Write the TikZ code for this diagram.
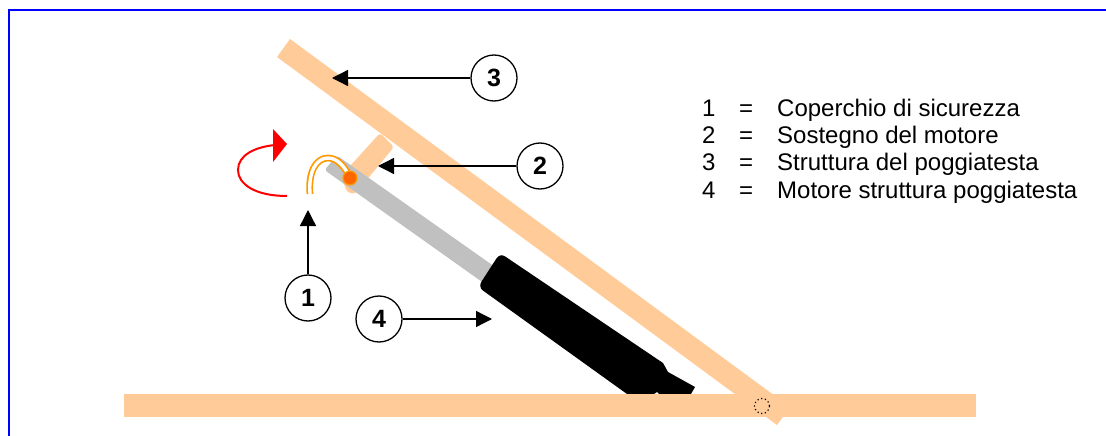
\documentclass[tikz,border=0pt]{standalone}
\usepackage{fontspec}
\setmainfont{Liberation Sans}
\usetikzlibrary{arrows.meta}
\definecolor{peach}{RGB}{255,204,153}
\definecolor{rodgray}{RGB}{192,192,192}
\definecolor{capor}{RGB}{255,153,0}
\definecolor{pinor}{RGB}{255,102,0}
\tikzset{
  x=1pt,y=-1pt,
  callout/.style={circle,draw=black,line width=1.3pt,fill=white,minimum size=46pt,inner sep=0pt,font=\fontsize{25}{25}\selectfont\bfseries},
  leader/.style={draw=black,line width=1.3pt,-{Triangle[length=16pt,width=16pt]}},
  legend/.style={anchor=base west,inner sep=0pt,font=\fontsize{24}{24}\selectfont}
}
\begin{document}
\begin{tikzpicture}
\useasboundingbox (0,0) rectangle (1106,436);
\draw[blue,line width=2pt] (9,436) -- (9,10.5) -- (1106,10.5);
% support
\fill[peach,rounded corners=3pt] (380,133) -- (394,147) -- (355,194) -- (347,192) -- (341,176) -- cycle;
% head structure
\fill[peach] (290,39) -- (790,407) -- (777,425) -- (277,57) -- cycle;
% rod
\fill[rodgray,rounded corners=3pt] (337,155.5) -- (505,274) -- (492,289) -- (324.5,170) -- cycle;
% motor
\fill[black,rounded corners=6pt] (627,394) -- (478,287) -- (500,253) -- (640,347.5) [sharp corners] -- (663,363) -- (668,372) -- (695,387) -- (691,394) -- (659,394) -- (657,392) -- (654,394) -- cycle;
% base
\fill[peach] (124,394) rectangle (976,417);
\draw[black,line width=1.2pt,dash pattern=on 1.2pt off 2.6pt] (762,406) circle (7.5pt);
% pin and cover
\draw[capor,line width=6.8pt] (310,194) .. controls (308,172) and (316,158) .. (328,158) .. controls (338,158) and (345,168) .. (350,177);
\draw[white,line width=3.4pt,shorten <=-1pt] (310,194) .. controls (308,172) and (316,158) .. (328,158) .. controls (338,158) and (345,168) .. (348,174);
\fill[pinor,draw=capor,line width=1.2pt] (350,178) circle (7pt);
% rotation arrow
\draw[red,line width=2pt] (287,196) .. controls (255,196) and (238,184) .. (238,170) .. controls (238,155) and (255,147) .. (275,145);
\fill[red] (273,129) -- (287,144) -- (273,162) -- cycle;
% callouts
\node[callout] (c3) at (494,78) {3};
\node[callout] (c2) at (540,166) {2};
\node[callout] (c1) at (308,298) {1};
\node[callout] (c4) at (379,319) {4};
\coordinate (t3) at (332,78);
\coordinate (t2) at (378,166);
\coordinate (t1) at (308,210);
\coordinate (t4) at (492,319);
\draw[leader] (c3) -- (t3);
\draw[leader] (c2) -- (t2);
\draw[leader] (c1) -- (t1);
\draw[leader] (c4) -- (t4);
% legend
\foreach \n/\t/\y in {1/Coperchio di sicurezza/116,2/Sostegno del motore/143,3/Struttura del poggiatesta/170,4/Motore struttura poggiatesta/198}{
  \node[legend] (n\n) at (702,\y) {\n};
  \node[legend] (e\n) at (739,\y) {=};
  \node[legend] (l\n) at (777,\y) {\t};
}
\end{tikzpicture}
\end{document}
